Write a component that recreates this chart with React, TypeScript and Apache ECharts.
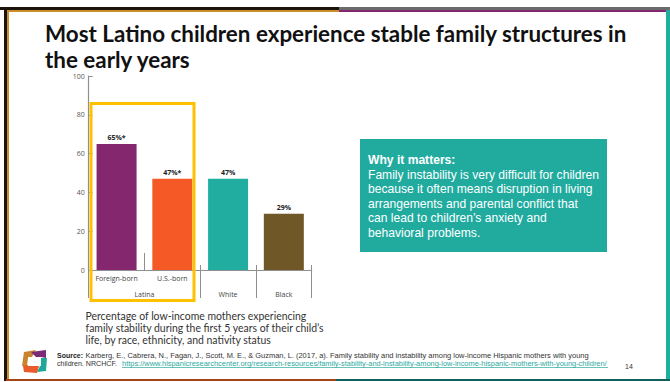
import React, { useEffect, useRef } from "react";
import * as echarts from "echarts";

const titleLines = [
  "Most Latino children experience stable family structures in",
  "the early years",
];
const captionLines = [
  "Percentage of low-income mothers experiencing",
  "family stability during the first 5 years of their child’s",
  "life, by race, ethnicity, and nativity status",
];
const panelHeading = "Why it matters:";
const panelLines = [
  "Family instability is very difficult for children",
  "because it often means disruption in living",
  "arrangements and parental conflict that",
  "can lead to children’s anxiety and",
  "behavioral problems.",
];
const sourceLabel = "Source:";
const sourceLine1 = "Karberg, E., Cabrera, N., Fagan, J., Scott, M. E., & Guzman, L. (2017, a). Family stability and instability among low-income Hispanic mothers with young";
const sourceLine2 = "children. NRCHCF.";
const sourceLink = "https://www.hispanicresearchcenter.org/research-resources/family-stability-and-instability-among-low-income-hispanic-mothers-with-young-children/";
const pageNumber = "14";

const categories = ["Foreign-born", "U.S.-born", "White", "Black"];
const values = [65, 47, 47, 29];
const valueSuffixes = ["%*", "%*", "%", "%"];
const barColors = ["#85276f", "#f55a26", "#21ad9f", "#6f5728"];
const groupLabels: Record<number, string> = { 1: "Latina", 2.5: "White", 3.5: "Black" };

const axisGray = "#8f8f8f";
const chartFont = "'Open Sans'";

function textEl(text: string, x: number, y: number, style: object) {
  return { type: "text", x, y, silent: true, z: 20, style: { text, textVerticalAlign: "middle", ...style } };
}
function rectEl(x: number, y: number, width: number, height: number, fill: string, z = 10) {
  return { type: "rect", silent: true, z, shape: { x, y, width, height }, style: { fill } };
}
function polyEl(points: number[][], fill: string) {
  return { type: "polygon", silent: true, z: 20, shape: { points }, style: { fill } };
}

export default function App() {
  const ref = useRef<HTMLDivElement>(null);
  useEffect(() => {
    const chart = echarts.init(ref.current!, null, { renderer: "svg" });
    const groupAxisBase = {
      type: "value",
      position: "bottom",
      min: 0,
      max: 4,
      splitLine: { show: false },
      axisLine: { show: false },
    };
    chart.setOption({
      animation: false,
      backgroundColor: "#ffffff",
      grid: { left: 88.7, top: 76, width: 223, height: 194 },
      yAxis: {
        type: "value",
        min: 0,
        max: 100,
        interval: 20,
        splitLine: { show: false },
        axisLine: { show: true, lineStyle: { color: axisGray, width: 1.2 } },
        axisTick: { show: true, inside: true, length: 4, lineStyle: { color: axisGray } },
        axisLabel: { fontFamily: chartFont, fontSize: 7, color: "#555555", margin: 4 },
      },
      xAxis: [
        {
          type: "category",
          data: categories.slice(0, 2).concat(["", ""]),
          axisLine: { show: true, onZero: false, lineStyle: { color: axisGray, width: 1.2 } },
          axisTick: { show: false },
          axisLabel: { fontFamily: chartFont, fontSize: 7, color: "#444444", margin: 5, interval: 0 },
        },
        {
          ...groupAxisBase,
          offset: 12,
          axisLabel: { show: false },
          axisTick: { show: true, inside: true, length: 17, customValues: [1], lineStyle: { color: axisGray } },
        },
        {
          ...groupAxisBase,
          offset: 28,
          axisTick: { show: true, inside: true, length: 33, customValues: [0, 2, 3, 4], lineStyle: { color: axisGray } },
          axisLabel: {
            inside: true,
            margin: 0,
            customValues: [1, 2.5, 3.5],
            formatter: (v: number) => groupLabels[v],
            fontFamily: chartFont,
            fontSize: 7,
            color: "#444444",
          },
        },
      ],
      series: [
        {
          type: "bar",
          barWidth: 40,
          data: values.map((value, i) => ({ value, itemStyle: { color: barColors[i] } })),
          label: {
            show: true,
            position: "top",
            distance: 3,
            fontFamily: chartFont,
            fontWeight: "bold",
            fontSize: 7,
            color: "#222222",
            formatter: (p: any) => `${p.value}${valueSuffixes[p.dataIndex]}`,
          },
        },
      ],
      graphic: [
        // slide frame
        rectEl(0, 7, 339, 3, "#1c140a"),
        rectEl(339, 7, 331, 3, "#6b6b6b"),
        rectEl(4, 10, 335, 2, "#c88f2c"),
        rectEl(339, 10, 327, 2, "#85276f"),
        rectEl(4, 7, 3, 374, "#1c140a"),
        rectEl(7, 10, 2, 370, "#c88f2c"),
        rectEl(666, 10, 4, 371, "#21ad9f"),
        rectEl(4, 378, 2, 3, "#1c140a"),
        rectEl(6, 379, 330, 2, "#a8431a"),
        rectEl(336, 379, 334, 2, "#0f5f5a"),

        // highlight around the Latina group
        {
          type: "rect",
          silent: true,
          z: 15,
          shape: { x: 91, y: 103.5, width: 103, height: 197 },
          style: { fill: "none", stroke: "#ffc000", lineWidth: 3 },
        },

        ...titleLines.map((line, i) =>
          textEl(line, 45, 33 + i * 26, { font: "bold 22.4px Lato", fill: "#111111" }),
        ),
        ...captionLines.map((line, i) =>
          textEl(line, 85.5, 315.5 + i * 12.2, { font: "10.45px Lato", fill: "#333333" }),
        ),

        // callout panel
        rectEl(360, 139, 247, 113, "#21ab9f"),
        textEl(panelHeading, 368, 160, { font: "bold 12.1px 'Liberation Sans'", fill: "#ffffff" }),
        ...panelLines.map((line, i) =>
          textEl(line, 368, 174.5 + i * 14.5, { font: "12.1px 'Liberation Sans'", fill: "#ffffff" }),
        ),

        // logo
        polyEl([[24, 352], [36, 350], [32, 357], [28, 358], [27, 366], [22, 366]], "#c9842f"),
        polyEl([[31, 352], [46, 350], [46, 358], [41, 357], [36, 357]], "#7a2a76"),
        polyEl([[41, 358], [47, 358], [46, 371], [37, 372], [40, 366], [41, 364]], "#1fa79b"),
        polyEl([[23, 366], [28, 365], [39, 366], [37, 373], [24, 372]], "#ea5a2a"),
        rectEl(28, 357, 13, 9, "#ffffff", 21),

        // source note
        textEl(sourceLabel, 57, 355, { font: "bold 7px 'Liberation Sans'", fill: "#222222" }),
        textEl(sourceLine1, 85.5, 355, { font: "7.47px 'Liberation Sans'", fill: "#333333" }),
        textEl(sourceLine2, 57, 363.5, { font: "7.1px 'Liberation Sans'", fill: "#333333" }),
        textEl(sourceLink, 122, 363.5, { font: "7.43px 'Liberation Sans'", fill: "#2ba99f" }),
        {
          type: "line",
          silent: true,
          z: 20,
          shape: { x1: 122, y1: 367.5, x2: 608, y2: 367.5 },
          style: { stroke: "#2ba99f", lineWidth: 0.7 },
        },
        textEl(pageNumber, 625, 366.5, { font: "7px 'Liberation Sans'", fill: "#333333" }),
      ],
    });
    return () => chart.dispose();
  }, []);
  return <div ref={ref} style={{ position: "absolute", left: 0, top: 0, width: 670, height: 382 }} />;
}
